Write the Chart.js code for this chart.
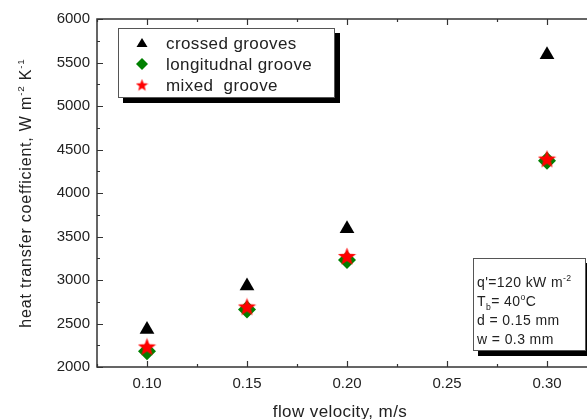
<!DOCTYPE html>
<html>
<head>
<meta charset="utf-8">
<script src="https://cdn.jsdelivr.net/npm/chart.js@4.4.0/dist/chart.umd.min.js"></script>
<style>
  html, body { margin: 0; padding: 0; background: #fff; overflow: hidden; }
  #wrap { width: 600px; height: 419px; }
  #myChart { width: 600px; height: 419px; }
</style>
</head>
<body>
<div id="wrap"><canvas id="myChart" width="600" height="419"></canvas></div>
<script>
// data
var velocity = [0.10, 0.15, 0.20, 0.30]
var crossed = [2430, 2930, 3590, 5590]
var longitudinal = [2180, 2660, 3230, 4370]
var mixed = [2230, 2690, 3270, 4390]

var xTicks = [0.10, 0.15, 0.20, 0.25, 0.30]
var xMinor = [0.075, 0.125, 0.175, 0.225, 0.275, 0.325]
var yTicks = [2000, 2500, 3000, 3500, 4000, 4500, 5000, 5500, 6000]
var yMinor = [2250, 2750, 3250, 3750, 4250, 4750, 5250, 5750]

var legendNames = ["crossed grooves", "longitudnal groove", "mixed  groove"]
var noteLines = [
    [{t: "q'=120 kW m"}, {t: "-2", sup: true}],
    [{t: "T"}, {t: "b", sub: true}, {t: "= 40"}, {t: "o", sup: true}, {t: "C"}],
    [{t: "d = 0.15 mm"}],
    [{t: "w = 0.3 mm"}]
]

var FONT = 'Arial, "Liberation Sans", sans-serif'

function makeStar(size, color) {
    var c = document.createElement('canvas')
    c.width = size
    c.height = size
    var g = c.getContext('2d')
    var r = size / 2, ri = r * 0.42
    g.beginPath()
    for (var i = 0; i < 10; i++) {
        var a = -Math.PI / 2 + i * Math.PI / 5
        var rr = i % 2 === 0 ? r : ri
        g.lineTo(r + rr * Math.cos(a), r + 0.5 + rr * Math.sin(a))
    }
    g.closePath()
    g.fillStyle = color
    g.fill()
    return c
}

var bigStar = makeStar(19, '#ff0000')
var smallStar = makeStar(13, '#ff0000')

function pts(ys) {
    return velocity.map(function(v, i) { return {x: v, y: ys[i]} })
}

function richWidth(ctx, parts, size) {
    var w = 0
    parts.forEach(function(p) {
        ctx.font = ((p.sup || p.sub) ? size * 0.62 : size) + 'px ' + FONT
        w += ctx.measureText(p.t).width
    })
    return w
}

function drawRich(ctx, parts, x, y, size) {
    parts.forEach(function(p) {
        var s = (p.sup || p.sub) ? size * 0.62 : size
        ctx.font = s + 'px ' + FONT
        var dy = p.sup ? -size * 0.45 : (p.sub ? size * 0.3 : 0)
        ctx.fillText(p.t, x, y + dy)
        x += ctx.measureText(p.t).width
    })
}

var decor = {
    id: 'decor',
    afterDraw: function(chart) {
        var ctx = chart.ctx
        var a = chart.chartArea
        var xs = chart.scales.x, ys = chart.scales.y
        ctx.save()
        ctx.strokeStyle = '#333'
        ctx.lineWidth = 1.5
        ctx.strokeRect(a.left, a.top, a.right - a.left, a.bottom - a.top)

        function tickX(vals, len) {
            vals.forEach(function(v) {
                var px = Math.round(xs.getPixelForValue(v)) + 0.5
                ctx.beginPath()
                ctx.moveTo(px, a.bottom); ctx.lineTo(px, a.bottom - len)
                ctx.moveTo(px, a.top); ctx.lineTo(px, a.top + len)
                ctx.stroke()
            })
        }
        function tickY(vals, len) {
            vals.forEach(function(v) {
                var py = Math.round(ys.getPixelForValue(v)) + 0.5
                ctx.beginPath()
                ctx.moveTo(a.left, py); ctx.lineTo(a.left + len, py)
                ctx.moveTo(a.right, py); ctx.lineTo(a.right - len, py)
                ctx.stroke()
            })
        }
        ctx.lineWidth = 1.2
        tickX(xTicks, 6)
        tickX(xMinor, 3)
        tickY(yTicks, 6)
        tickY(yMinor, 3)

        // axis titles
        ctx.fillStyle = '#222'
        ctx.textBaseline = 'alphabetic'
        ctx.letterSpacing = '0.4px'
        ctx.font = '17px ' + FONT
        var xt = 'flow velocity, m/s'
        ctx.fillText(xt, 340 - ctx.measureText(xt).width / 2, 417)

        var yParts = [{t: 'heat transfer coefficient, W m'}, {t: '-2', sup: true}, {t: ' K'}, {t: '-1', sup: true}]
        ctx.save()
        ctx.letterSpacing = '0.8px'
        ctx.translate(31, 193)
        ctx.rotate(-Math.PI / 2)
        drawRich(ctx, yParts, -richWidth(ctx, yParts, 16) / 2, 0, 16)
        ctx.restore()

        // legend box
        ctx.fillStyle = '#000'
        ctx.fillRect(123, 33, 217, 70)
        ctx.fillStyle = '#fff'
        ctx.fillRect(118, 28, 217, 70)
        ctx.strokeStyle = '#555'
        ctx.lineWidth = 1
        ctx.strokeRect(118.5, 28.5, 216, 69)
        var rows = [43, 64, 85]
        // triangle
        ctx.fillStyle = '#000'
        ctx.beginPath()
        ctx.moveTo(142, rows[0] - 5); ctx.lineTo(147.5, rows[0] + 4); ctx.lineTo(136.5, rows[0] + 4)
        ctx.closePath(); ctx.fill()
        // diamond
        ctx.fillStyle = '#008000'
        ctx.beginPath()
        ctx.moveTo(142, rows[1] - 6); ctx.lineTo(148, rows[1]); ctx.lineTo(142, rows[1] + 6); ctx.lineTo(136, rows[1])
        ctx.closePath(); ctx.fill()
        ctx.drawImage(smallStar, 142 - 6.5, rows[2] - 6.5)
        ctx.fillStyle = '#222'
        ctx.letterSpacing = '0.4px'
        ctx.font = '17px ' + FONT
        legendNames.forEach(function(n, i) {
            ctx.fillText(n, 166, rows[i] + 6)
        })

        // note box
        ctx.fillStyle = '#000'
        ctx.fillRect(478, 263, 120, 93)
        ctx.fillStyle = '#fff'
        ctx.fillRect(473, 258, 113, 93)
        ctx.strokeStyle = '#555'
        ctx.strokeRect(473.5, 258.5, 112, 92)
        ctx.fillStyle = '#222'
        ctx.letterSpacing = '0.4px'
        var base = [287, 306, 325, 344]
        noteLines.forEach(function(l, i) {
            drawRich(ctx, l, 477, base[i], 14)
        })
        ctx.restore()
    }
}

var chart = new Chart(document.getElementById('myChart').getContext('2d'), {
    type: 'scatter',
    data: {
        datasets: [{
                label: legendNames[0],
                data: pts(crossed),
                pointStyle: 'triangle',
                pointRadius: 8.5,
                backgroundColor: '#000',
                borderColor: '#000',
                borderWidth: 0,
                order: 2
            },
            {
                label: legendNames[1],
                data: pts(longitudinal),
                pointStyle: 'rectRot',
                pointRadius: 9,
                backgroundColor: '#008000',
                borderColor: '#008000',
                borderWidth: 0,
                order: 1
            },
            {
                label: legendNames[2],
                data: pts(mixed),
                pointStyle: bigStar,
                pointRadius: 9,
                order: 0
            }
        ]
    },
    options: {
        responsive: false,
        animation: false,
        events: [],
        layout: { autoPadding: false, padding: { left: 0, top: 19, right: 3, bottom: 0 } },
        plugins: { legend: { display: false }, tooltip: { enabled: false } },
        scales: {
            x: {
                type: 'linear',
                min: 0.075,
                max: 0.325,
                afterBuildTicks: function(s) { s.ticks = xTicks.map(function(v) { return {value: v} }) },
                afterFit: function(s) { s.height = 52; s.paddingLeft = 0; s.paddingRight = 0 },
                grid: { display: false, drawTicks: false },
                border: { display: false },
                ticks: {
                    padding: 8,
                    color: '#222',
                    font: { family: FONT, size: 15 },
                    callback: function(v) { return v.toFixed(2) }
                }
            },
            y: {
                min: 2000,
                max: 6000,
                afterBuildTicks: function(s) { s.ticks = yTicks.map(function(v) { return {value: v} }) },
                afterFit: function(s) { s.width = 97; s.paddingTop = 0; s.paddingBottom = 0 },
                grid: { display: false, drawTicks: false },
                border: { display: false },
                ticks: {
                    padding: 7,
                    color: '#222',
                    font: { family: FONT, size: 15 },
                    callback: function(v) { return String(v) }
                }
            }
        }
    },
    plugins: [decor]
})
</script>
</body>
</html>
